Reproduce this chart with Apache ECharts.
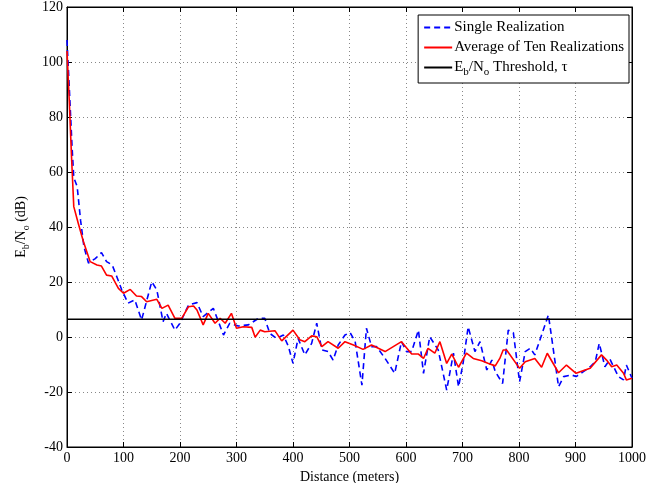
<!DOCTYPE html>
<html><head><meta charset="utf-8">
<script src="https://cdn.jsdelivr.net/npm/echarts@6/dist/echarts.min.js"></script>
<style>html,body{margin:0;padding:0;background:#fff}#c{width:668px;height:483px}</style>
</head><body><div id="c"></div>
<script>
const xTicks = [0,100,200,300,400,500,600,700,800,900,1000];
const yTicks = [-40,-20,0,20,40,60,80,100,120];
const threshold = 6.5;
const singleX = [0,4,9,12,18,24,30,38,50,61,70,80,88,97,108,120,132,150,159,170,176,191,200,215,230,241,259,268,277,288,303,321,339,350,359,371,383,392,400,409,421,433,442,451,462,471,480,492,501,510,522,530,539,548,563,580,592,601,610,622,631,642,657,672,684,693,701,710,722,731,743,752,758,771,781,790,801,811,820,828,852,858,870,879,893,901,914,926,935,942,952,961,976,985,990,1000];
const singleY = [108,91,69,58,54.7,42.5,32.8,26.9,28.5,30.7,27.4,26.2,22,17.1,12.3,13.5,6.2,20.1,17.1,5.6,8.6,2.5,5,11.6,12.5,7.4,10.4,5.6,0.7,5,4,4.4,6.8,6.8,1.3,-0.5,0.7,-3.5,-9.6,-0.5,-6.5,-2.3,5,-4.7,-5.3,-8.4,-2.9,0.7,1.6,-1.7,-17.5,3.2,-3.5,-3.5,-7.8,-13.2,-1.7,-5.3,-5.3,2.5,-13.2,0.1,-4.7,-19.3,-5.9,-18.1,-9.6,3.7,-5.3,-1.7,-12,-8.4,-12.6,-16.9,2.5,1.6,-16.3,-5.3,-4.1,-6.5,8,-0.5,-18.1,-14.4,-13.8,-14.4,-12.6,-10.8,-9,-2.3,-10.8,-8.1,-14.4,-15.6,-10.2,-15];
const avgX = [0,4,8,12,20,29,41,53,61,70,79,91,100,112,123,132,141,159,168,179,191,203,215,224,230,241,250,262,271,280,291,300,312,327,333,342,350,368,380,400,412,421,433,442,451,462,480,492,507,524,539,551,563,592,610,622,631,639,651,660,672,681,693,707,719,734,746,758,766,772,778,801,811,828,840,850,870,884,901,917,926,946,955,964,973,985,990,1000];
const avgY = [104,86,65.6,47.4,41.3,34.7,27.4,26.2,25.8,22.5,22.2,17.7,15.9,17.3,14.9,14.7,12.8,13.7,10.4,11.6,6.8,6.8,11,11.3,9.8,4.4,8.6,5,6.8,5,8.6,3.2,3.7,3.5,-0.1,2.5,1.9,2.3,-1.4,2.5,-1,-1.7,0.4,0.1,-3.5,-1.7,-4.1,-1.7,-2.9,-4.5,-2.9,-4.1,-5.3,-1.7,-6.2,-6.2,-7.8,-4.1,-5.9,-1.7,-9.6,-6.2,-11,-5.9,-7.8,-8.6,-9.6,-10.5,-7.8,-4.7,-4.7,-11.4,-9,-7.8,-11,-5.9,-13,-10.2,-13.2,-12,-11.4,-6.5,-8.4,-10.8,-10.2,-13.2,-15.6,-15];
const seriesNames = ['Single Realization','Average of Ten Realizations','Threshold'];

const font = '"Liberation Serif", "Times New Roman", serif';
const zip = (a,b) => a.map((v,i)=>[v,b[i]]);
const chart = echarts.init(document.getElementById('c'));
const gridLine = {show:true, lineStyle:{color:'#888', type:[1,3], width:1}};
const richSub = {
  n:{fontFamily:font,fontSize:14,color:'#000'},
  s:{fontFamily:font,fontSize:10,color:'#000',verticalAlign:'bottom',padding:[10,0,0,0]}
};
const richLeg = {
  n:{fontFamily:font,fontSize:15,color:'#000'},
  s:{fontFamily:font,fontSize:11,color:'#000',verticalAlign:'bottom',padding:[10,0,0,0]}
};
const plain = v => String(v);
chart.setOption({
  animation:false,
  backgroundColor:'#fff',
  grid:{left:67,right:36,top:7,bottom:36,show:true,borderColor:'#000',borderWidth:1,containLabel:false,outerBoundsMode:'none'},
  legend:{
    right:39, top:15, orient:'vertical', itemGap:5, itemWidth:28, itemHeight:12,
    backgroundColor:'#fff', borderColor:'#000', borderWidth:1, padding:[5,5,5,5],
    itemStyle:{opacity:0},
    data:seriesNames,
    formatter:function(n){
      if(n==='Threshold') return '{n|E}{s|b}{n|/N}{s|o}{n| Threshold, τ}';
      return '{n|'+n+'}';
    },
    textStyle:{fontFamily:font,fontSize:15,color:'#000',rich:richLeg,padding:[0,0,0,-3]}
  },
  xAxis:[{
    type:'value', min:0, max:1000, interval:100,
    name:'Distance (meters)', nameLocation:'middle', nameGap:20,
    nameTextStyle:{fontFamily:font,fontSize:14,color:'#000'},
    axisLine:{onZero:false,lineStyle:{color:'#000'}}, axisTick:{inside:true,length:5,lineStyle:{color:'#000'}},
    axisLabel:{fontFamily:font,fontSize:14,color:'#000',margin:4,formatter:plain},
    splitLine:gridLine
  },{
    type:'value', position:'top', min:0, max:1000, interval:100,
    axisLine:{onZero:false,lineStyle:{color:'#000'}}, axisTick:{inside:true,length:5,lineStyle:{color:'#000'}},
    axisLabel:{show:false}, splitLine:{show:false}
  }],
  yAxis:[{
    type:'value', min:-40, max:120, interval:20,
    name:'{n|E}{s|b}{n|/N}{s|o}{n| (dB)}', nameLocation:'middle', nameGap:36,
    nameTextStyle:{rich:richSub},
    axisLine:{onZero:false,lineStyle:{color:'#000'}}, axisTick:{inside:true,length:5,lineStyle:{color:'#000'}},
    axisLabel:{fontFamily:font,fontSize:14,color:'#000',margin:4,formatter:plain},
    splitLine:gridLine
  },{
    type:'value', position:'right', min:-40, max:120, interval:20,
    axisLine:{onZero:false,lineStyle:{color:'#000'}}, axisTick:{inside:true,length:5,lineStyle:{color:'#000'}},
    axisLabel:{show:false}, splitLine:{show:false}
  }],
  series:[
    {name:seriesNames[0], type:'line', data:zip(singleX,singleY), showSymbol:false, symbol:'none',
     lineStyle:{color:'#0000ff',width:1.6,type:[6,4]}, itemStyle:{color:'#0000ff'}, z:3},
    {name:seriesNames[1], type:'line', data:zip(avgX,avgY), showSymbol:false, symbol:'none',
     lineStyle:{color:'#ff0000',width:1.6}, itemStyle:{color:'#ff0000'}, z:4},
    {name:seriesNames[2], type:'line', data:[[0,threshold],[1000,threshold]], showSymbol:false, symbol:'none',
     lineStyle:{color:'#000',width:1.5}, itemStyle:{color:'#000'}, z:5}
  ]
});
</script></body></html>
